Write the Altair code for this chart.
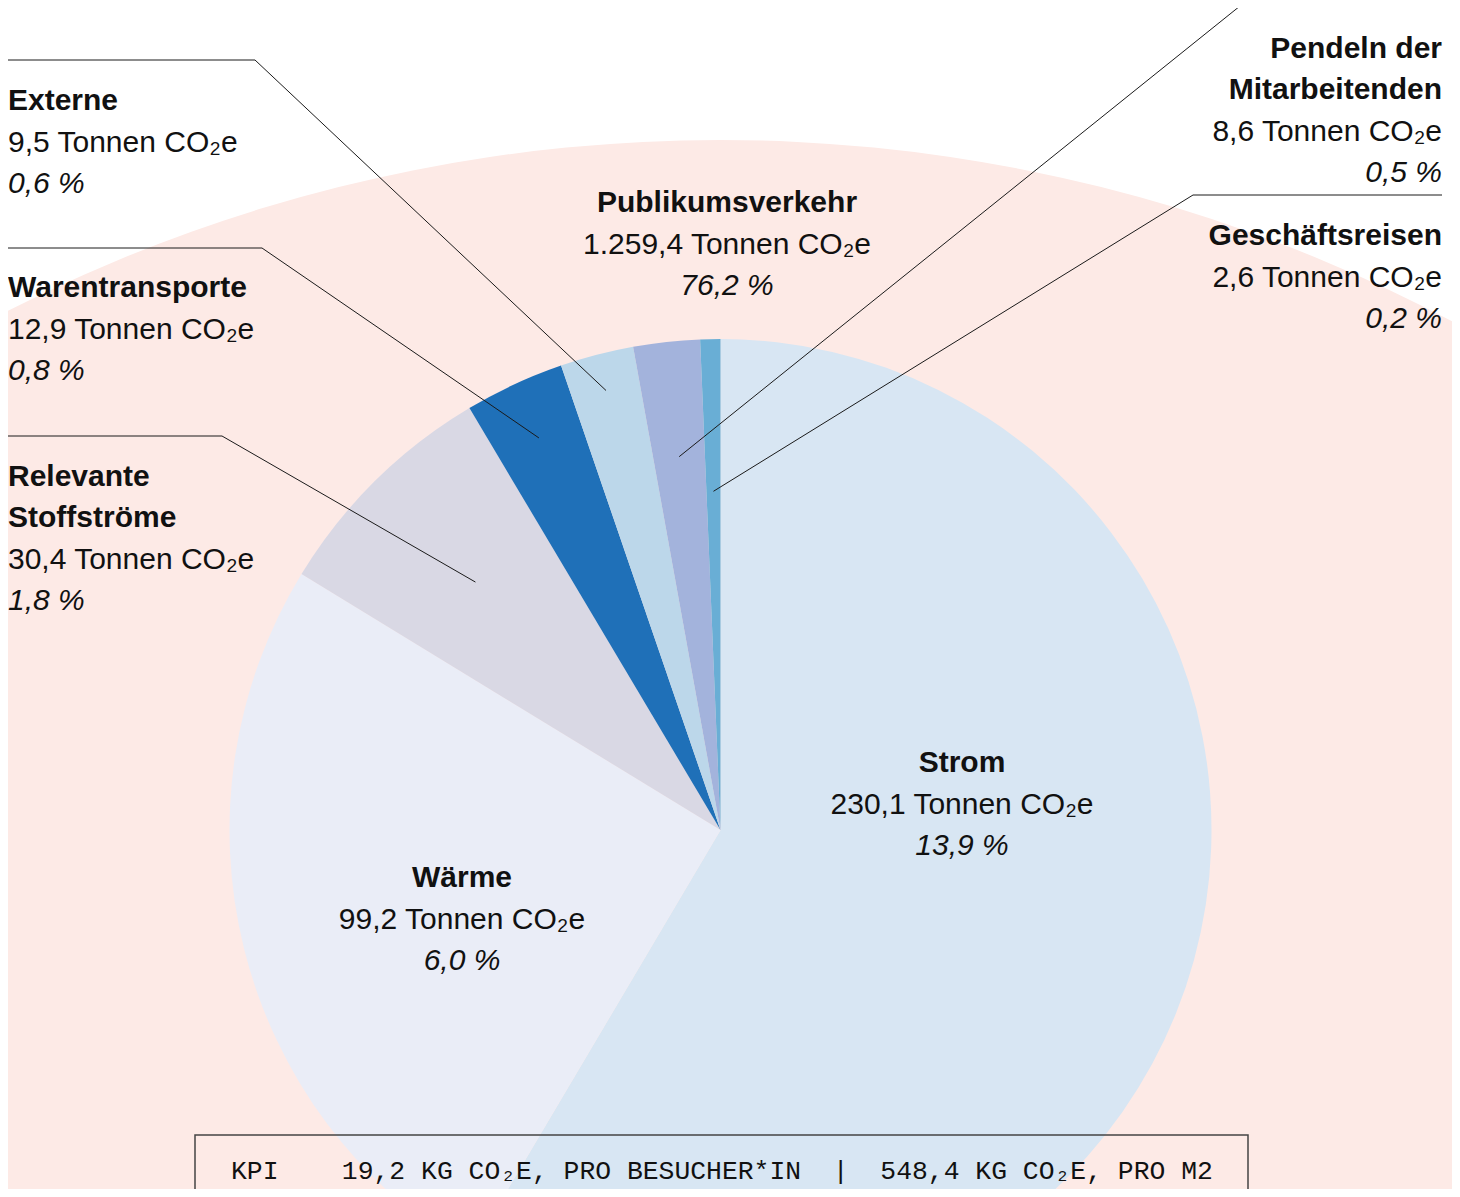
import math
import altair as alt
import pandas as pd

# ---------------- data ----------------
categories = ["Publikumsverkehr", "Strom", "Wärme", "Relevante Stoffströme",
              "Warentransporte", "Externe", "Pendeln der Mitarbeitenden", "Geschäftsreisen"]
tonnes = [1259.4, 230.1, 99.2, 30.4, 12.9, 9.5, 8.6, 2.6]
percent = [76.2, 13.9, 6.0, 1.8, 0.8, 0.6, 0.5, 0.2]
title_lines = [["Publikumsverkehr"], ["Strom"], ["Wärme"], ["Relevante", "Stoffströme"],
               ["Warentransporte"], ["Externe"], ["Pendeln der", "Mitarbeitenden"], ["Geschäftsreisen"]]
kpi_text = "KPI\u00a0\u00a0\u00a0\u00a019,2 KG CO₂E, PRO BESUCHER*IN\u00a0\u00a0|\u00a0\u00a0548,4 KG CO₂E, PRO M2"

# ---------------- style / layout ----------------
colors = ["#fdeae6", "#d8e6f3", "#eaedf7", "#d9d8e4", "#1f70b8", "#bcd7ea", "#a3b3dc", "#69aed5"]
W, H, OFF = 1444, 1181, 8
PIE_C = (720.5, 830.0)
PIE_R = 491
BG_C = (720.0, 1709.0)
BG_R = 1569
LINE_H = 41.5
FONT = "Liberation Sans"
FS = 30
# x anchor, first baseline, alignment
label_anchor = {
    "Publikumsverkehr": (727, 212, "center"),
    "Strom": (962, 772, "center"),
    "Wärme": (462, 887, "center"),
    "Relevante Stoffströme": (8, 485.5, "left"),
    "Warentransporte": (8, 297, "left"),
    "Externe": (8, 110, "left"),
    "Pendeln der Mitarbeitenden": (1442, 57.5, "right"),
    "Geschäftsreisen": (1442, 245, "right"),
}
# callout: fraction of pie radius for end point, start point, elbow point
callouts = {
    "Relevante Stoffströme": (0.71, (8, 436), (222, 436)),
    "Warentransporte": (0.88, (8, 248), (262, 248)),
    "Externe": (0.925, (8, 60), (255, 60)),
    "Pendeln der Mitarbeitenden": (0.765, (1442, 6), (1240, 6)),
    "Geschäftsreisen": (0.69, (1442, 195), (1193, 195)),
}


def de(v):
    s = f"{v:,.1f}"
    return s.replace(",", "#").replace(".", ",").replace("#", ".")


XS = alt.Scale(domain=[OFF, OFF + W], nice=False, zero=False)
YS = alt.Scale(domain=[OFF, OFF + H], nice=False, zero=False, reverse=True)
CS = alt.Scale(domain=categories, range=colors)

df = pd.DataFrame({"category": categories, "tonnes": tonnes, "percent": percent,
                   "idx": list(range(len(categories)))})
bg_df = df.iloc[:1]
pie_df = df.iloc[1:]

# callout lines from slice mid angles
total = sum(tonnes[1:])
cum = 0.0
mids = {}
for c, t in zip(categories[1:], tonnes[1:]):
    mids[c] = (cum + t / 2) / total * 2 * math.pi
    cum += t
line_rows = []
for c, (frac, start, elbow) in callouts.items():
    a = mids[c]
    end = (PIE_C[0] + frac * PIE_R * math.sin(a), PIE_C[1] - frac * PIE_R * math.cos(a))
    for i, p in enumerate([start, elbow, end]):
        line_rows.append({"category": c, "seq": i, "x": p[0], "y": p[1]})
line_df = pd.DataFrame(line_rows)

# text rows
text_rows = []
for c, t, p, tl in zip(categories, tonnes, percent, title_lines):
    x, y0, al = label_anchor[c]
    lines = [(s, "bold") for s in tl] + [(f"{de(t)} Tonnen CO₂e", "regular"), (f"{de(p)} %", "italic")]
    for i, (s, st) in enumerate(lines):
        text_rows.append({"label": s, "x": x, "y": y0 + i * LINE_H, "style": st, "align": al})
text_df = pd.DataFrame(text_rows)

bg = alt.Chart(bg_df).mark_arc(radius=BG_R, clip=True).encode(
    theta=alt.Theta("tonnes:Q", stack=True),
    color=alt.Color("category:N", scale=CS, legend=None),
    x=alt.X(datum=BG_C[0], type="quantitative", scale=XS, axis=None),
    y=alt.Y(datum=BG_C[1], type="quantitative", scale=YS, axis=None),
)

pie = alt.Chart(pie_df).mark_arc(radius=PIE_R, clip=True).encode(
    theta=alt.Theta("tonnes:Q", stack=True),
    order=alt.Order("idx:Q"),
    color=alt.Color("category:N", scale=CS, legend=None),
    x=alt.X(datum=PIE_C[0], type="quantitative", scale=XS, axis=None),
    y=alt.Y(datum=PIE_C[1], type="quantitative", scale=YS, axis=None),
)

lines = alt.Chart(line_df).mark_line(color="#1a1a1a", strokeWidth=1, clip=True).encode(
    x=alt.X("x:Q", scale=XS, axis=None),
    y=alt.Y("y:Q", scale=YS, axis=None),
    detail="category:N",
    order="seq:Q",
)

layers = [bg, pie, lines]
for st in ["bold", "regular", "italic"]:
    for al in ["left", "center", "right"]:
        sub = text_df[(text_df["style"] == st) & (text_df["align"] == al)]
        if len(sub) == 0:
            continue
        kw = dict(font=FONT, fontSize=FS, color="#111111", align=al, baseline="alphabetic")
        if st == "bold":
            kw["fontWeight"] = "bold"
        if st == "italic":
            kw["fontStyle"] = "italic"
        layers.append(alt.Chart(sub).mark_text(**kw).encode(
            x=alt.X("x:Q", scale=XS, axis=None),
            y=alt.Y("y:Q", scale=YS, axis=None),
            text="label:N",
        ))

kpi_df = pd.DataFrame({"label": [kpi_text]})
box = alt.Chart(kpi_df).mark_rect(fillOpacity=0, stroke="#444444", strokeWidth=1.5, clip=True).encode(
    x=alt.X(datum=195, type="quantitative", scale=XS, axis=None),
    x2=alt.X2(datum=1248),
    y=alt.Y(datum=1135, type="quantitative", scale=YS, axis=None),
    y2=alt.Y2(datum=1230),
)
kpi = alt.Chart(kpi_df).mark_text(font="Liberation Mono", fontSize=26.4, color="#111111",
                                  align="left", baseline="alphabetic").encode(
    x=alt.X(datum=231, type="quantitative", scale=XS, axis=None),
    y=alt.Y(datum=1179, type="quantitative", scale=YS, axis=None),
    text="label:N",
)
layers += [box, kpi]

chart = alt.layer(*layers).resolve_scale(theta="independent").properties(
    width=W, height=H, padding=0, autosize=alt.AutoSizeParams(type="none"),
    background="white",
).configure_view(strokeWidth=0)

chart.save("out.html", embed_options={"renderer": "svg", "actions": False})
